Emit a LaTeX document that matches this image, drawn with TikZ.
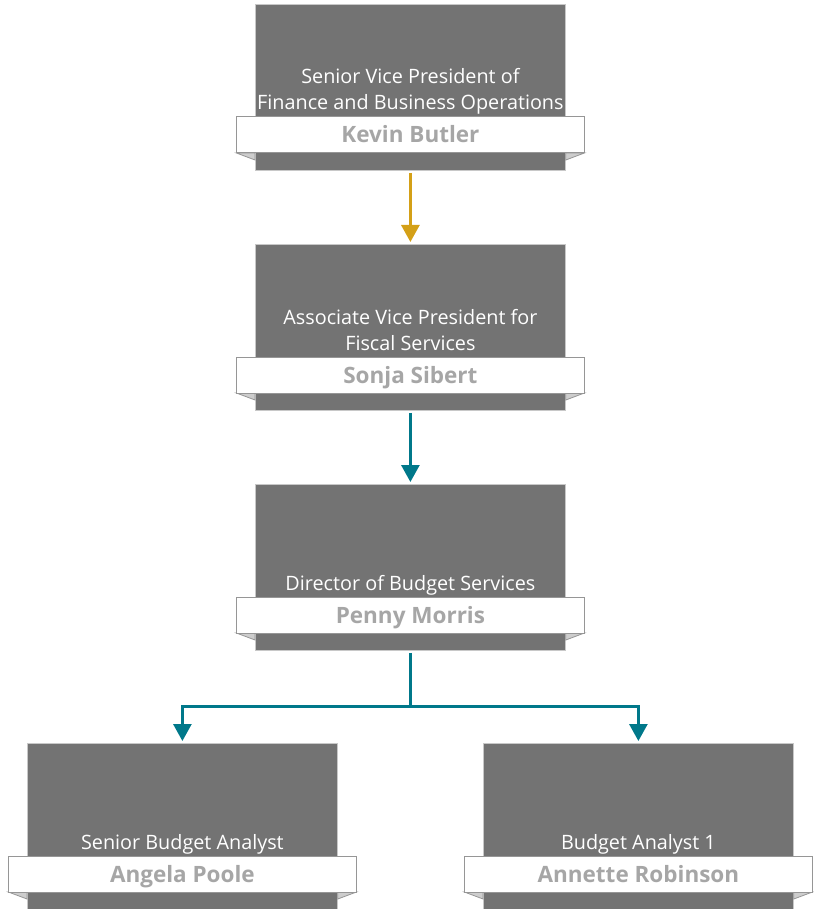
\documentclass[tikz,border=0pt]{standalone}
\usepackage{fontspec}
\setmainfont{Open Sans}
\usetikzlibrary{arrows.meta}
\definecolor{boxgray}{RGB}{115,115,115}
\definecolor{boxedge}{RGB}{200,200,200}
\definecolor{bannedge}{RGB}{150,150,150}
\definecolor{foldfill}{RGB}{205,205,205}
\definecolor{namegray}{RGB}{166,166,166}
\definecolor{gold}{RGB}{212,160,23}
\definecolor{teal}{RGB}{0,120,138}
\tikzset{
  posbox/.style={draw=boxedge, line width=0.8pt, fill=boxgray, minimum width=310pt, minimum height=166pt, inner sep=0pt, anchor=north west},
  bannerbox/.style={draw=bannedge, line width=1pt, fill=white, minimum width=348pt, minimum height=36pt, inner sep=0pt},
  foldtri/.style={draw=bannedge, line width=0.8pt, fill=foldfill},
  titletext/.style={text=white, font=\fontsize{19.8}{26}\selectfont, align=center, inner sep=0pt, anchor=base},
  persontext/.style={text=namegray, font=\fontsize{22.5}{26}\selectfont\bfseries, inner sep=0pt, anchor=base},
  conn/.style={line width=2.8pt, -{Triangle[width=18pt,length=17pt]}},
}
\newcommand{\orgpos}[5]{% id, x, y, title, person
  \node[posbox] (b#1) at (#2,#3) {};
  \coordinate (n#1) at ([yshift=-131pt]b#1.north);
  \coordinate (nsw#1) at ([xshift=-174pt,yshift=-18pt]n#1);
  \coordinate (nse#1) at ([xshift=174pt,yshift=-18pt]n#1);
  \filldraw[foldtri] (nsw#1) -- (b#1.west |- nsw#1) -- ([yshift=-7pt]b#1.west |- nsw#1) -- cycle;
  \filldraw[foldtri] (nse#1) -- (b#1.east |- nse#1) -- ([yshift=-7pt]b#1.east |- nse#1) -- cycle;
  \node[bannerbox] (nb#1) at (n#1) {};
  \node[titletext] (t#1) at ([yshift=-106pt]b#1.north) {#4};
  \node[persontext] (p#1) at ([yshift=-139pt]b#1.north) {#5};
}
\begin{document}
\begin{tikzpicture}[x=1pt,y=-1pt]
\useasboundingbox (0,0) rectangle (813,909);
\orgpos{1}{255}{4}{Senior Vice President of\\Finance and Business Operations}{Kevin Butler}
\orgpos{2}{255}{244}{Associate Vice President for\\Fiscal Services}{Sonja Sibert}
\orgpos{3}{255}{484}{Director of Budget Services}{Penny Morris}
\orgpos{4}{27}{743}{Senior Budget Analyst}{Angela Poole}
\orgpos{5}{483}{743}{Budget Analyst 1}{Annette Robinson}
\draw[conn, gold, shorten <=2pt, shorten >=2pt] (b1.south) -- (b2.north);
\draw[conn, teal, shorten <=2pt, shorten >=2pt] (b2.south) -- (b3.north);
\coordinate (j) at ([yshift=-56pt]b3.south);
\draw[line width=2.8pt, teal, shorten <=2pt] (b3.south) -- (j);
\draw[conn, teal, shorten >=2pt] (j) -| (b4.north);
\draw[conn, teal, shorten >=2pt] (j) -| (b5.north);
\end{tikzpicture}
\end{document}
